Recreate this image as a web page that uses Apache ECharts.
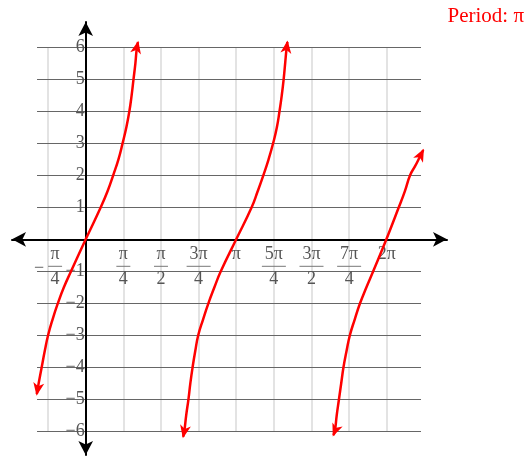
<!DOCTYPE html>
<html>
<head>
<meta charset="utf-8">
<title>Period: π</title>
<script src="https://cdn.jsdelivr.net/npm/echarts@6/dist/echarts.min.js"></script>
<style>
  html, body { margin: 0; padding: 0; background: #fff; }
  #chart { width: 531px; height: 457px; }
</style>
</head>
<body>
<div id="chart"></div>
<script>
// x is measured in units of pi/4
const xTickVals  = [-1, 1, 2, 3, 4, 5, 6, 7, 8];
const xTickSigns = ['−', '', '', '', '', '', '', '', ''];
const xTickNums  = ['π', 'π', 'π', '3π', 'π', '5π', '3π', '7π', '2π'];
const xTickDens  = ['4', '4', '2', '4', '', '4', '2', '4', ''];
const yTickVals  = [-6, -5, -4, -3, -2, -1, 1, 2, 3, 4, 5, 6];

// light vertical grid lines and dark horizontal ones
const vGridVals = [-1, 1, 2, 3, 4, 5, 6, 7, 8];
const hGridVals = [-6, -5, -4, -3, -2, -1, 1, 2, 3, 4, 5, 6];

// the three branches: [x (pi/4 units), y]
const branch1 = [[-1.30, -4.84], [-1.25, -4.5], [-1.17, -4], [-1.09, -3.5], [-1.00, -3], [-0.88, -2.5],
  [-0.74, -2], [-0.58, -1.5], [-0.39, -1], [0, 0], [0.40, 1], [0.58, 1.5], [0.73, 2], [0.87, 2.5],
  [0.98, 3], [1.08, 3.5], [1.16, 4], [1.22, 4.5], [1.27, 5], [1.32, 5.5], [1.36, 6], [1.39, 6.16]];
const branch2 = [[2.59, -6.17], [2.62, -6], [2.67, -5.5], [2.73, -5], [2.78, -4.5], [2.84, -4], [2.91, -3.5],
  [2.99, -3], [3.12, -2.5], [3.26, -2], [3.42, -1.5], [3.59, -1], [4.00, 0], [4.41, 1], [4.57, 1.5],
  [4.72, 2], [4.86, 2.5], [4.98, 3], [5.08, 3.5], [5.15, 4], [5.21, 4.5], [5.26, 5], [5.30, 5.5],
  [5.34, 6], [5.36, 6.17]];
const branch3 = [[6.58, -6.12], [6.62, -6], [6.67, -5.5], [6.73, -5], [6.79, -4.5], [6.85, -4], [6.93, -3.5],
  [7.02, -3], [7.15, -2.5], [7.29, -2], [7.46, -1.5], [7.64, -1], [7.99, 0], [8.32, 1], [8.48, 1.5],
  [8.62, 2], [8.76, 2.3], [8.88, 2.58], [8.97, 2.79]];

// layout
const W = 531, H = 457;
const GRID = { left: 12, right: 84, top: 22, bottom: 2 };
const X_MIN = -1.959, X_MAX = 9.601;
const Y_MIN = -6.741, Y_MAX = 6.791;
const GRID_X0 = -1.294, GRID_X1 = 8.91; // extent of the horizontal rules
const GRID_Y0 = -6, GRID_Y1 = 6;        // extent of the vertical rules
const HEAD_LEN = 13, HEAD_HALF = 5.5, HEAD_NOTCH = 3.5;
const FONT = '"Liberation Serif", "Times New Roman", serif';
const LABEL = '#555';

// pixel position of the origin, so both axes (line and labels) sit on it
const plotW = W - GRID.left - GRID.right;
const plotH = H - GRID.top - GRID.bottom;
const zeroX = GRID.left + (0 - X_MIN) / (X_MAX - X_MIN) * plotW;
const zeroY = GRID.top + (Y_MAX - 0) / (Y_MAX - Y_MIN) * plotH;

const chart = echarts.init(document.getElementById('chart'), null, { renderer: 'canvas' });

function fracLabel(value) {
  const i = xTickVals.indexOf(Math.round(value));
  if (i < 0 || Math.abs(value - xTickVals[i]) > 1e-6) return '';
  const k = xTickNums[i].length > 1 ? 'W' : 'N';
  if (!xTickDens[i]) return '{one|' + xTickNums[i] + '}';
  if (xTickSigns[i]) {
    return '{sp|}{n' + k + '|' + xTickNums[i] + '}\n{m|' + xTickSigns[i] + '}{b' + k + '| }\n{sp|}{d' + k + '|' + xTickDens[i] + '}';
  }
  return '{n' + k + '|' + xTickNums[i] + '}\n{b' + k + '| }\n{d' + k + '|' + xTickDens[i] + '}';
}

const txt = { fontSize: 18, color: LABEL, fontFamily: FONT };
const richStyle = {
  one: Object.assign({ lineHeight: 20 }, txt),
  nN: Object.assign({ width: 14, align: 'center', lineHeight: 20 }, txt),
  nW: Object.assign({ width: 24, align: 'center', lineHeight: 20 }, txt),
  dN: Object.assign({ width: 14, align: 'center', lineHeight: 22 }, txt),
  dW: Object.assign({ width: 24, align: 'center', lineHeight: 22 }, txt),
  bN: { width: 14, height: 1, fontSize: 1, lineHeight: 4, backgroundColor: '#777' },
  bW: { width: 24, height: 1, fontSize: 1, lineHeight: 4, backgroundColor: '#777' },
  m: Object.assign({ width: 14, align: 'left', lineHeight: 4, padding: [4, 0, 0, 0] }, txt),
  sp: Object.assign({ width: 14, lineHeight: 20 }, txt)
};

function curveSeries(pts) {
  return {
    type: 'line',
    z: 5,
    silent: true,
    smooth: 0.5,
    showSymbol: false,
    symbol: 'none',
    lineStyle: { color: '#ff0000', width: 2.5 },
    data: pts
  };
}

// [tipX, tipY, prevX, prevY] for both ends of every branch
const arrowData = [branch1, branch2, branch3].flatMap(b => [
  [b[0][0], b[0][1], b[1][0], b[1][1]],
  [b[b.length - 1][0], b[b.length - 1][1], b[b.length - 2][0], b[b.length - 2][1]]
]);

function renderHead(params, api) {
  const t = api.coord([api.value(0), api.value(1)]);
  const p = api.coord([api.value(2), api.value(3)]);
  let ux = t[0] - p[0], uy = t[1] - p[1];
  const len = Math.hypot(ux, uy) || 1;
  ux /= len; uy /= len;
  const nx = -uy, ny = ux;
  const tip = [t[0] + ux * 1.5, t[1] + uy * 1.5];
  const back = [tip[0] - ux * HEAD_LEN, tip[1] - uy * HEAD_LEN];
  return {
    type: 'polygon',
    shape: {
      points: [
        tip,
        [back[0] + nx * HEAD_HALF, back[1] + ny * HEAD_HALF],
        [tip[0] - ux * (HEAD_LEN - HEAD_NOTCH), tip[1] - uy * (HEAD_LEN - HEAD_NOTCH)],
        [back[0] - nx * HEAD_HALF, back[1] - ny * HEAD_HALF]
      ]
    },
    style: { fill: '#ff0000' }
  };
}

const axisLineStyle = {
  onZero: false,
  symbol: ['arrow', 'arrow'],
  symbolSize: [11, 14],
  lineStyle: { color: '#000', width: 2 }
};

chart.setOption({
  animation: false,
  backgroundColor: '#fff',
  title: {
    text: 'Period: π',
    right: 2,
    top: 1,
    textStyle: { color: '#ff0000', fontSize: 21, fontWeight: 'normal', fontFamily: FONT }
  },
  grid: Object.assign({ containLabel: false, outerBoundsMode: 'none' }, GRID),
  xAxis: {
    type: 'value',
    min: X_MIN,
    max: X_MAX,
    position: 'bottom',
    offset: zeroY - (H - GRID.bottom),
    z: 4,
    splitLine: { show: false },
    axisTick: { show: false },
    axisLine: axisLineStyle,
    axisLabel: {
      customValues: xTickVals,
      margin: 5,
      color: LABEL,
      fontFamily: FONT,
      fontSize: 18,
      formatter: fracLabel,
      rich: richStyle
    }
  },
  yAxis: {
    type: 'value',
    min: Y_MIN,
    max: Y_MAX,
    position: 'left',
    offset: GRID.left - zeroX,
    z: 4,
    splitLine: { show: false },
    axisTick: { show: false },
    axisLine: axisLineStyle,
    axisLabel: {
      customValues: yTickVals,
      margin: 1,
      color: LABEL,
      fontFamily: FONT,
      fontSize: 18,
      padding: [7, 0, 0, 0],
      formatter: v => (v < 0 ? '−' + Math.abs(v) : String(v))
    }
  },
  series: [
    {
      type: 'lines',
      coordinateSystem: 'cartesian2d',
      z: 1,
      silent: true,
      lineStyle: { color: '#dadada', width: 1.5, opacity: 1 },
      data: vGridVals.map(v => ({ coords: [[v, GRID_Y0], [v, GRID_Y1]] }))
    },
    {
      type: 'lines',
      coordinateSystem: 'cartesian2d',
      z: 2,
      silent: true,
      lineStyle: { color: '#666', width: 1.2, opacity: 1 },
      data: hGridVals.map(v => ({ coords: [[GRID_X0, v], [GRID_X1, v]] }))
    },
    curveSeries(branch1),
    curveSeries(branch2),
    curveSeries(branch3),
    {
      type: 'custom',
      z: 6,
      silent: true,
      renderItem: renderHead,
      data: arrowData
    }
  ]
});
</script>
</body>
</html>
